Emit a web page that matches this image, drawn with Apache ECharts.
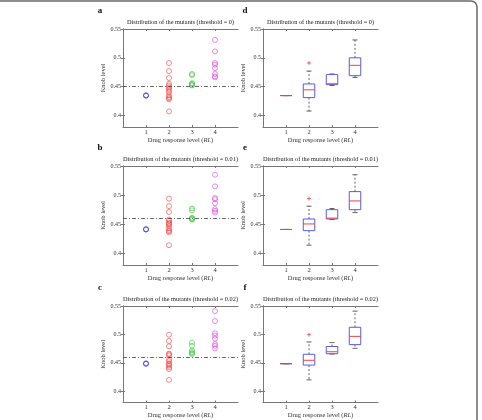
<!DOCTYPE html>
<html>
<head>
<meta charset="utf-8">
<script src="https://cdn.jsdelivr.net/npm/echarts@6/dist/echarts.min.js"></script>
<style>
  html, body { margin: 0; padding: 0; background: #fff; }
  #main { width: 482px; height: 420px; }
</style>
</head>
<body>
<div id="main"></div>
<script>
// response levels and axis ticks
var rlLevels = [1, 2, 3, 4];
var xTicks = [1, 2, 3, 4];
var yTicks = [0.4, 0.45, 0.5, 0.55];
var thresholds = [0.4505, 0.4575, 0.464];
var titles = [
  'Distribution of the mutants (threshold = 0)',
  'Distribution of the mutants (threshold = 0.01)',
  'Distribution of the mutants (threshold = 0.02)'
];
var letters = [['a', 'd'], ['b', 'e'], ['c', 'f']];

// knob level of mutants, per level (RL 1..4)
var mutantsT0 = [
  [0.4345, 0.4345, 0.435],
  [0.491, 0.477, 0.465, 0.455, 0.452, 0.449, 0.446, 0.443, 0.440, 0.435, 0.432, 0.430, 0.428, 0.407],
  [0.472, 0.470, 0.456, 0.455, 0.453, 0.452],
  [0.531, 0.511, 0.491, 0.488, 0.482, 0.472, 0.468, 0.466]
];
var mutantsT1 = [
  [0.441, 0.441, 0.4415],
  [0.494, 0.481, 0.471, 0.458, 0.456, 0.453, 0.451, 0.450, 0.447, 0.443, 0.440, 0.438, 0.436, 0.414],
  [0.477, 0.474, 0.461, 0.460, 0.459, 0.458],
  [0.535, 0.515, 0.495, 0.493, 0.486, 0.476, 0.473, 0.470]
];
var mutantsT2 = [
  [0.4485, 0.4485, 0.449],
  [0.4995, 0.4885, 0.479, 0.466, 0.465, 0.463, 0.456, 0.453, 0.449, 0.447, 0.445, 0.442, 0.439, 0.420],
  [0.4855, 0.480, 0.472, 0.469, 0.467, 0.4655],
  [0.541, 0.5235, 0.502, 0.498, 0.4925, 0.483, 0.480, 0.4755]
];

// box stats [low, q1, median, q3, high] per level
var boxT0 = [
  [0.4345, 0.4345, 0.4345, 0.4345, 0.4345],
  [0.4077, 0.431, 0.4445, 0.4547, 0.477],
  [0.452, 0.4535, 0.455, 0.471, 0.472],
  [0.466, 0.469, 0.487, 0.500, 0.531]
];
var boxT1 = [
  [0.441, 0.441, 0.441, 0.441, 0.441],
  [0.414, 0.439, 0.4505, 0.459, 0.481],
  [0.458, 0.459, 0.4605, 0.475, 0.477],
  [0.470, 0.475, 0.490, 0.506, 0.535]
];
var boxT2 = [
  [0.4485, 0.4485, 0.4485, 0.4485, 0.4485],
  [0.420, 0.446, 0.4545, 0.465, 0.4868],
  [0.4655, 0.466, 0.4695, 0.4787, 0.4856],
  [0.4755, 0.482, 0.4966, 0.5126, 0.541]
];
var outlierLevel = [2, 2, 2];
var outlierValue = [0.491, 0.494, 0.4995];

var mutants = [mutantsT0, mutantsT1, mutantsT2];
var boxes = [boxT0, boxT1, boxT2];

var levelColors = ['#4a4af0', '#f04848', '#3cc83c', '#e048e0'];
var serif = 'Liberation Serif';
var axisColor = '#777';
var labelColor = '#333';

var gridTops = [29, 166, 306];
var gridHeights = [98, 99, 99];
var gridLefts = [123, 263];
var gridWidth = 115;

var grids = [], xAxes = [], yAxes = [], series = [], titleList = [];

function renderBox(params, api) {
  var x = api.value(0);
  var lo = api.coord([x, api.value(1)]);
  var q1 = api.coord([x, api.value(2)]);
  var md = api.coord([x, api.value(3)]);
  var q3 = api.coord([x, api.value(4)]);
  var hi = api.coord([x, api.value(5)]);
  var cx = lo[0];
  var hw = api.size([0.25, 0])[0];
  var cw = api.size([0.11, 0])[0];
  var dash = { stroke: '#222', lineWidth: 0.7, lineDash: [2, 2] };
  var cap = { stroke: '#222', lineWidth: 0.7 };
  return {
    type: 'group',
    children: [
      { type: 'line', shape: { x1: cx, y1: q3[1], x2: cx, y2: hi[1] }, style: dash },
      { type: 'line', shape: { x1: cx, y1: q1[1], x2: cx, y2: lo[1] }, style: dash },
      { type: 'line', shape: { x1: cx - cw, y1: hi[1], x2: cx + cw, y2: hi[1] }, style: cap },
      { type: 'line', shape: { x1: cx - cw, y1: lo[1], x2: cx + cw, y2: lo[1] }, style: cap },
      { type: 'rect', shape: { x: cx - hw, y: q3[1], width: 2 * hw, height: q1[1] - q3[1] },
        style: { fill: 'none', stroke: '#5a5ae8', lineWidth: 1 } },
      { type: 'line', shape: { x1: cx - hw, y1: md[1], x2: cx + hw, y2: md[1] },
        style: { stroke: '#f04040', lineWidth: 1 } }
    ]
  };
}

for (var r = 0; r < 3; r++) {
  for (var c = 0; c < 2; c++) {
    var gi = grids.length;
    grids.push({ left: gridLefts[c], top: gridTops[r], width: gridWidth, height: gridHeights[r] });

    // bottom and top x axes
    xAxes.push({
      type: 'value', gridIndex: gi, min: 0, max: 5, position: 'bottom',
      name: 'Drug response level ({i|RL})', nameLocation: 'middle', nameGap: 7,
      nameTextStyle: { fontFamily: serif, fontSize: 6.5, color: labelColor,
        rich: { i: { fontFamily: serif, fontSize: 6.5, fontStyle: 'italic', color: labelColor } } },
      axisLine: { show: true, lineStyle: { color: axisColor, width: 1 } },
      axisTick: { show: true, inside: true, length: 2, customValues: xTicks, lineStyle: { color: axisColor } },
      axisLabel: { customValues: xTicks, margin: 1.5, fontFamily: serif, fontSize: 6.5, color: labelColor },
      splitLine: { show: false }
    });
    xAxes.push({
      type: 'value', gridIndex: gi, min: 0, max: 5, position: 'top',
      axisLine: { show: true, lineStyle: { color: axisColor, width: 1 } },
      axisTick: { show: true, inside: true, length: 2, customValues: xTicks, lineStyle: { color: axisColor } },
      axisLabel: { show: false },
      splitLine: { show: false }
    });
    // left and right y axes
    yAxes.push({
      type: 'value', gridIndex: gi, min: 0.38, max: 0.55, position: 'left',
      name: 'Knob level', nameLocation: 'middle', nameGap: 10,
      nameTextStyle: { fontFamily: serif, fontSize: 6.5, color: labelColor },
      axisLine: { show: true, lineStyle: { color: axisColor, width: 1 } },
      axisTick: { show: true, inside: true, length: 2, customValues: yTicks, lineStyle: { color: axisColor } },
      axisLabel: { customValues: yTicks, margin: 2, fontFamily: serif, fontSize: 6, color: labelColor },
      splitLine: { show: false }
    });
    yAxes.push({
      type: 'value', gridIndex: gi, min: 0.38, max: 0.55, position: 'right',
      axisLine: { show: true, lineStyle: { color: axisColor, width: 1 } },
      axisTick: { show: true, inside: true, length: 2, customValues: yTicks, lineStyle: { color: axisColor } },
      axisLabel: { show: false },
      splitLine: { show: false }
    });

    var xi = gi * 2, yi = gi * 2;

    titleList.push({
      text: titles[r], left: gridLefts[c] + gridWidth / 2, top: gridTops[r] - 10, textAlign: 'center',
      padding: 0,
      textStyle: { fontFamily: serif, fontSize: 6.3, fontWeight: 'normal', color: '#222' }
    });
    titleList.push({
      text: letters[r][c], left: c === 0 ? 100 : 245, top: gridTops[r] - 23, textAlign: 'center',
      padding: 0,
      textStyle: { fontFamily: serif, fontSize: 9, fontWeight: 'bold', color: '#111' }
    });

    if (c === 0) {
      // scatter of the mutants, one series per response level
      for (var k = 0; k < rlLevels.length; k++) {
        var pts = mutants[r][k].map(function (v) { return [rlLevels[k], v]; });
        var s = {
          type: 'scatter', xAxisIndex: xi, yAxisIndex: yi, data: pts,
          symbol: 'circle', symbolSize: 5,
          itemStyle: { color: 'rgba(0,0,0,0)', borderColor: levelColors[k], borderWidth: 0.8 }
        };
        if (k === 0) {
          s.markLine = {
            silent: true, symbol: ['none', 'none'], label: { show: false },
            lineStyle: { type: [4, 2, 1, 2], color: '#444', width: 0.8 },
            data: [{ yAxis: thresholds[r] }]
          };
        }
        series.push(s);
      }
    } else {
      var boxData = boxes[r].map(function (b, k) { return [rlLevels[k]].concat(b); });
      series.push({
        type: 'custom', xAxisIndex: xi, yAxisIndex: yi, data: boxData,
        renderItem: renderBox, encode: { x: 0, y: [1, 2, 3, 4, 5] }
      });
      series.push({
        type: 'scatter', xAxisIndex: xi, yAxisIndex: yi,
        data: [[outlierLevel[r], outlierValue[r]]],
        symbol: 'path://M0,5L10,5M5,0L5,10', symbolSize: 4,
        itemStyle: { color: 'none', borderColor: '#f03030', borderWidth: 0.9 }
      });
    }
  }
}

var chart = echarts.init(document.getElementById('main'));
chart.setOption({
  animation: false,
  backgroundColor: '#fff',
  title: titleList,
  grid: grids,
  xAxis: xAxes,
  yAxis: yAxes,
  series: series,
  graphic: [{
    type: 'rect', silent: true,
    shape: { x: -10, y: 1, width: 487, height: 440, r: 6 },
    style: { fill: 'none', stroke: '#6a6a6a', lineWidth: 1.5 }
  }]
});
window.onresize = function () { chart.resize(); };
</script>
</body>
</html>
